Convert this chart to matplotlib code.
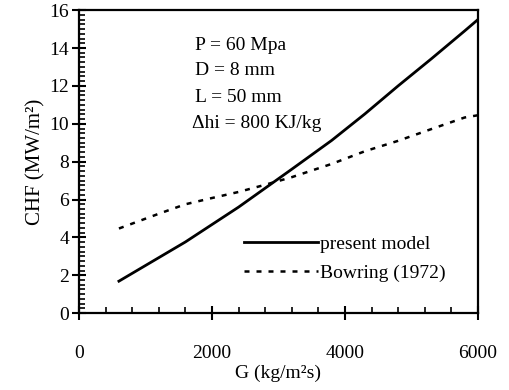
import matplotlib
matplotlib.use('Agg')
import matplotlib.pyplot as plt
from matplotlib.ticker import MultipleLocator

plt.rcParams['font.family'] = ['Liberation Serif', 'DejaVu Serif']

# data
g_model = [600, 1600, 2000, 2400, 2800, 3200, 3800, 4300, 4800, 5300, 5800, 6000]
chf_model = [1.69, 3.76, 4.68, 5.6, 6.6, 7.6, 9.12, 10.52, 12.0, 13.43, 14.9, 15.5]

g_bowring = [600, 1200, 1600, 2000, 2400, 2800, 3200, 3800, 4300, 4800, 5300, 5800, 6000]
chf_bowring = [4.47, 5.25, 5.75, 6.08, 6.4, 6.78, 7.18, 7.88, 8.55, 9.1, 9.72, 10.33, 10.45]

notes = ['P = 60 Mpa', 'D = 8 mm', 'L = 50 mm', '\u0394hi = 800 KJ/kg']

fig = plt.figure(figsize=(5.1, 3.9), dpi=100)
ax = fig.add_axes([0.155, 0.197, 0.782, 0.777])

ax.plot(g_model, chf_model, color='black', lw=2, label='present model')
ax.plot(g_bowring, chf_bowring, color='black', lw=1.8, linestyle=(0, (2, 2.8)),
        label='Bowring (1972)')

ax.set_xlim(0, 6000)
ax.set_ylim(0, 16)
ax.xaxis.set_major_locator(MultipleLocator(2000))
ax.xaxis.set_minor_locator(MultipleLocator(400))
ax.yaxis.set_major_locator(MultipleLocator(2))
ax.yaxis.set_minor_locator(MultipleLocator(0.25))

ax.tick_params(axis='x', which='major', direction='inout', length=10, width=1.5,
               labelsize=14, pad=18)
ax.tick_params(axis='y', which='major', direction='inout', length=10, width=1.5,
               labelsize=14, pad=2)
ax.tick_params(which='minor', direction='in', length=4, width=1.2)

for s in ax.spines.values():
    s.set_linewidth(1.6)

ax.set_xlabel('G (kg/m\u00b2s)', fontsize=14, labelpad=2)
ax.set_ylabel('CHF (MW/m\u00b2)', fontsize=15, labelpad=3)

ys = [14.15, 12.8, 11.4, 10.0]
for t, y in zip(notes, ys):
    ax.text(1750 if not t.startswith('\u0394') else 1700, y, t, fontsize=14,
            va='center', ha='left')

leg = ax.legend(loc='lower left', bbox_to_anchor=(0.39, 0.07), frameon=False,
                fontsize=14, handlelength=3.8, handletextpad=0.1, labelspacing=0.6,
                borderpad=0)

fig.savefig('out.png', dpi=100)
